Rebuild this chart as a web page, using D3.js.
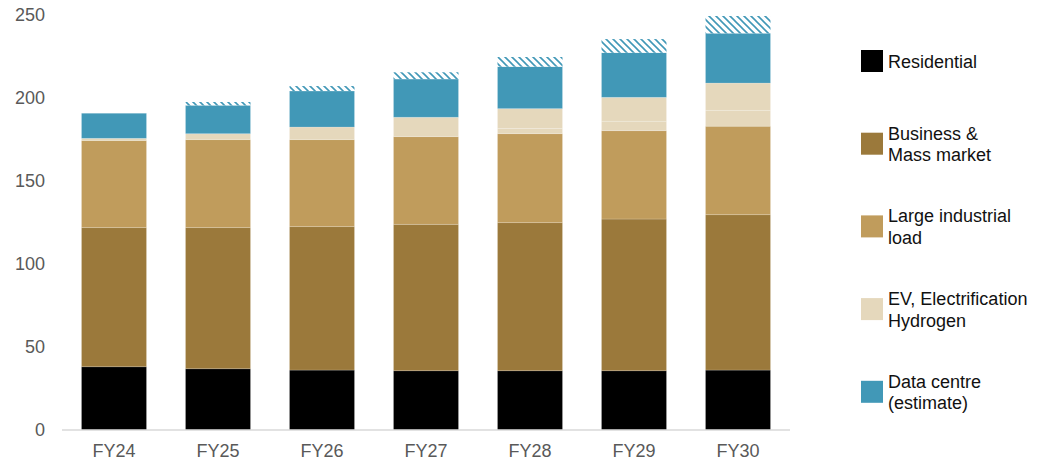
<!DOCTYPE html>
<html>
<head>
<meta charset="utf-8">
<script src="https://cdnjs.cloudflare.com/ajax/libs/d3/7.8.5/d3.min.js"></script>
<style>
  body { margin: 0; background: #fff; }
  text { font-family: "Liberation Sans", Arial, sans-serif; }
</style>
</head>
<body>
<svg id="chart" width="1039" height="461"></svg>
<script>
// values (stack bottom -> top)
var years = ["FY24", "FY25", "FY26", "FY27", "FY28", "FY29", "FY30"];
var residential = [38.1, 36.9, 36.1, 35.7, 35.7, 35.7, 36.1];
var business = [83.8, 85.0, 86.4, 88.2, 89.2, 91.4, 93.6];
var largeIndustrial = [52.5, 53.0, 52.4, 52.8, 53.6, 53.2, 53.3];
var hydrogen = [0, 0, 0, 0, 3.2, 5.7, 9.6];
var evElectrification = [1.3, 3.6, 7.6, 11.7, 11.9, 14.4, 16.4];
var dataCentre = [15.1, 17.1, 21.7, 23.0, 25.3, 26.9, 30.0];
var dataCentreUpside = [0, 2.0, 3.0, 4.1, 5.8, 8.2, 10.4];
var yTicks = [0, 50, 100, 150, 200, 250];

var keys = ["residential", "business", "largeIndustrial", "hydrogen", "evElectrification", "dataCentre", "dataCentreUpside"];
var colors = {
  residential: "#000000",
  business: "#9b793b",
  largeIndustrial: "#c09c5c",
  hydrogen: "#e5d8bc",
  evElectrification: "#e5d8bc",
  dataCentre: "#4198b7",
  dataCentreUpside: "url(#hatch)"
};
var legendItems = [
  {key: "residential", lines: ["Residential"]},
  {key: "business", lines: ["Business &", "Mass market"]},
  {key: "largeIndustrial", lines: ["Large industrial", "load"]},
  {key: "evElectrification", lines: ["EV, Electrification", "Hydrogen"]},
  {key: "dataCentre", lines: ["Data centre", "(estimate)"]}
];

var rows = years.map(function(y, i) {
  return {
    year: y,
    residential: residential[i],
    business: business[i],
    largeIndustrial: largeIndustrial[i],
    hydrogen: hydrogen[i],
    evElectrification: evElectrification[i],
    dataCentre: dataCentre[i],
    dataCentreUpside: dataCentreUpside[i]
  };
});

var svg = d3.select("#chart");

// hatched pattern for the data centre upside
var pat = svg.append("defs").append("pattern")
  .attr("id", "hatch")
  .attr("patternUnits", "userSpaceOnUse")
  .attr("width", 7)
  .attr("height", 7);
pat.append("rect").attr("width", 7).attr("height", 7).attr("fill", "#fff");
pat.append("path")
  .attr("d", "M-1,-1 L8,8 M-1,6 L1,8 M6,-1 L8,1")
  .attr("stroke", "#4198b7")
  .attr("stroke-width", 1.6);

var x = d3.scaleBand()
  .domain(years)
  .range([62, 790])
  .paddingInner(0.375)
  .paddingOuter(0.1875);

var y = d3.scaleLinear()
  .domain([0, 250])
  .range([430, 15]);

var series = d3.stack().keys(keys)(rows);

svg.append("g")
  .selectAll("g")
  .data(series)
  .enter().append("g")
  .attr("fill", function(d) { return colors[d.key]; })
  .selectAll("rect")
  .data(function(d) { return d.map(function(v) { v.key = d.key; return v; }); })
  .enter().append("rect")
  .filter(function(d) { return d[1] - d[0] > 0; })
  .attr("x", function(d) { return x(d.data.year); })
  .attr("y", function(d) { return y(d[1]); })
  .attr("width", x.bandwidth())
  .attr("height", function(d) { return y(d[0]) - y(d[1]); })
  .attr("stroke", function(d) { return d.key == "dataCentreUpside" ? "none" : "#fff"; })
  .attr("stroke-opacity", 0.22)
  .attr("stroke-width", 0.8);

// baseline
svg.append("line")
  .attr("x1", 62).attr("x2", 790)
  .attr("y1", y(0)).attr("y2", y(0))
  .attr("stroke", "#d9d9d9")
  .attr("stroke-width", 1.5);

// y axis labels, no axis line
var yAxis = svg.append("g")
  .attr("transform", "translate(45,0)")
  .call(d3.axisLeft(y).tickValues(yTicks).tickSize(0).tickPadding(0));
yAxis.select(".domain").remove();
yAxis.selectAll("text")
  .attr("fill", "#595959")
  .style("font-size", "18px")
  .style("font-family", "Liberation Sans, Arial, sans-serif");

var xAxis = svg.append("g")
  .attr("transform", "translate(0," + y(0) + ")")
  .call(d3.axisBottom(x).tickSize(0).tickPadding(14));
xAxis.select(".domain").remove();
xAxis.selectAll("text")
  .attr("fill", "#595959")
  .style("font-size", "18px")
  .style("font-family", "Liberation Sans, Arial, sans-serif");

// legend
var legend = svg.append("g")
  .selectAll("g")
  .data(legendItems)
  .enter().append("g")
  .attr("transform", function(d, i) { return "translate(861," + (61 + i * 82.7) + ")"; });

legend.append("rect")
  .attr("x", 0).attr("y", -11)
  .attr("width", 22).attr("height", 22)
  .attr("fill", function(d) { return colors[d.key]; });

legend.append("text")
  .attr("x", 27)
  .attr("fill", "#111")
  .style("font-size", "18px")
  .each(function(d) {
    var t = d3.select(this);
    var start = d.lines.length == 1 ? 6.5 : -4;
    d.lines.forEach(function(l, j) {
      t.append("tspan").attr("x", 27).attr("y", start + j * 21.5).text(l);
    });
  });
</script>
</body>
</html>
